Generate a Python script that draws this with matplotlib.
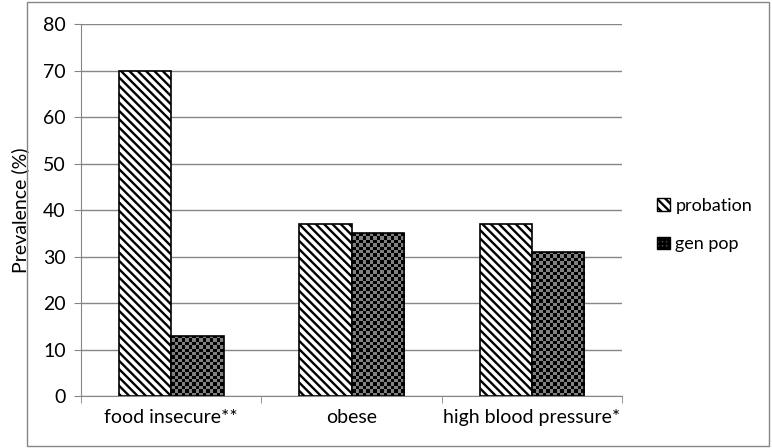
import numpy as np
import matplotlib as mtplt
from matplotlib import pyplot as plt
from matplotlib.patches import Rectangle, Patch

mtplt.rcParams['font.family'] = ['Lato', 'DejaVu Sans']
mtplt.rcParams['hatch.linewidth'] = 1.7
mtplt.rcParams['hatch.color'] = 'black'

categories = ["food insecure**", "obese", "high blood pressure*"]
probation = [70, 37, 37]
gen_pop = [13, 35, 31]
series_names = ["probation", "gen pop"]
y_ticks = [0, 10, 20, 30, 40, 50, 60, 70, 80]

fig = plt.figure(figsize=(7.72, 4.48), dpi=100)
ax = fig.add_axes([0.105, 0.116, 0.701, 0.830])

x = np.arange(len(categories))
w = 0.29

bars1 = ax.bar(x - w / 2, probation, w, color='white', edgecolor='black',
               hatch='\\\\\\\\', linewidth=1.2, zorder=3)
bars2 = ax.bar(x + w / 2, gen_pop, w, color='none', edgecolor='black',
               linewidth=1.2, zorder=4)

ax.set_xlim(-0.5, len(categories) - 0.5)
ax.set_ylim(0, 80)
ax.set_yticks(y_ticks)
ax.set_xticks(x)
ax.set_xticklabels(categories)
ax.set_xticks(np.arange(len(categories) + 1) - 0.5, minor=True)
ax.tick_params(axis='x', which='major', length=0, labelsize=14, pad=9)
ax.tick_params(axis='x', which='minor', length=5, color='#868686')
ax.tick_params(axis='y', length=5, color='#868686', labelsize=14, pad=6)
ax.yaxis.grid(True, color='#868686', linewidth=1)
ax.set_axisbelow(True)
for s in ['top', 'right']:
    ax.spines[s].set_visible(False)
for s in ['left', 'bottom']:
    ax.spines[s].set_color('#868686')
ax.set_ylabel("Prevalence (%)", fontsize=14, labelpad=10)

# checkerboard fill for gen pop bars
fig.canvas.draw()
for bar in bars2:
    bx, by = bar.get_x(), bar.get_y()
    bw, bh = bar.get_width(), bar.get_height()
    p0 = ax.transData.transform((bx, by))
    p1 = ax.transData.transform((bx + bw, by + bh))
    nx = max(1, int(round((p1[0] - p0[0]) / 3.4)))
    ny = max(1, int(round((p1[1] - p0[1]) / 3.4)))
    board = (np.add.outer(np.arange(ny), np.arange(nx)) % 2).astype(float)
    im = ax.imshow(board, cmap=mtplt.colors.ListedColormap(['black', '#808080']),
                   extent=(bx, bx + bw, by, by + bh), aspect='auto',
                   interpolation='nearest', zorder=3)
    im.set_clip_path(bar)
ax.set_xlim(-0.5, len(categories) - 0.5)
ax.set_ylim(0, 80)

handles = [Patch(facecolor='white', edgecolor='black', hatch='\\\\\\\\'),
           Patch(facecolor='#404040', edgecolor='black', hatch='++++')]
leg = ax.legend(handles, series_names, loc='center left', bbox_to_anchor=(1.035, 0.46),
                frameon=False, fontsize=13, handlelength=0.7, handleheight=0.7,
                labelspacing=1.25, handletextpad=0.3)

fig.patches.append(Rectangle((0.035, 0.004), 0.961, 0.992, transform=fig.transFigure,
                             fill=False, edgecolor='#868686', linewidth=1))

plt.savefig("out.png", dpi=100)
